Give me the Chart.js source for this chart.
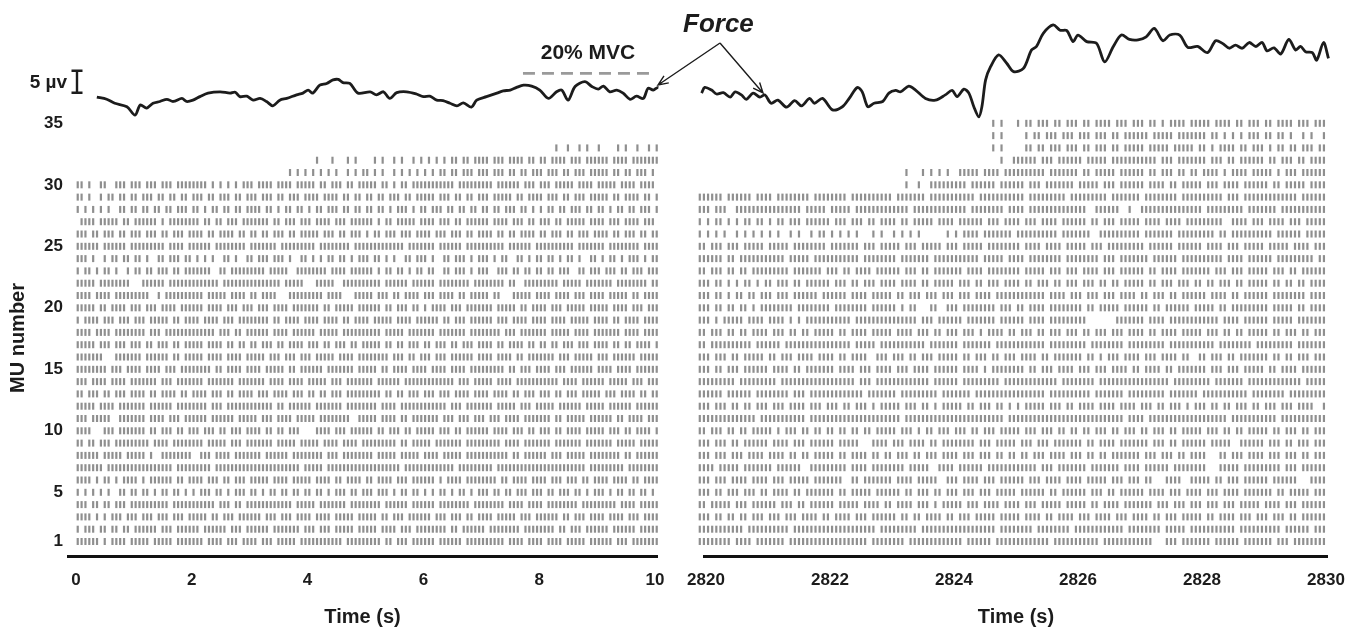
<!DOCTYPE html>
<html>
<head>
<meta charset="utf-8">
<script src="https://cdn.jsdelivr.net/npm/chart.js@4/dist/chart.umd.min.js"></script>
<style>
  html, body { margin: 0; padding: 0; background: #ffffff; }
  #wrap { position: relative; width: 1359px; height: 633px; overflow: hidden; }
  #wrap canvas { position: absolute; left: 0; top: 0; }
</style>
</head>
<body>
<div id="wrap">
  <canvas id="leftChart" width="1359" height="633"></canvas>
  <canvas id="rightChart" width="1359" height="633"></canvas>
</div>
<script>
// ---------------- DATA ----------------
const leftTimeTicks = [0, 2, 4, 6, 8, 10];
const rightTimeTicks = [2820, 2822, 2824, 2826, 2828, 2830];
const muTicks = [1, 5, 10, 15, 20, 25, 30, 35];

// Discharge patterns: one string per motor unit (index 0 = MU 1),
// one character per 1/15 s bin ('|' = discharge, '.' = none); spaces only group 1 s.
const binsPerSecond = 15;
const leftRasterStart = 0.03;
const rightRasterStart = 2819.9;

const leftRaster = [
"||||||.|.||||.| ||||.|||||.|||| |||.||||.|||.|| ||.|||.|||||.|| |||||||||.||||| ||||.||.|||.||| |||.||||||.|||| ||||||.||||.||| |.||||.|||||.|| ||||.|||.|||||| |",
"|.|||.||.||.||. ||||||.|||.|||| ||.||||||.|||.| |||||.|||||||.| ||.|||.|||||.|| |||.||||.|||.|| ||||||.||.||||| |.||||||||.|||| ||||.||.|||.||| |||.||||||.|||| |",
"||||.|.|.|||.|| |.|||.|||.|||.| ||||.||.|||.||| |||.|||.|||.||| |.||||.|||||.|| |||.||.|||.|||| ||.|||.|||.||.| |||.|||||.|||.| |||||.||.|||.|| ||.||||.|||.||| |",
"|||.||.||.|||.| |||||||||.||||| ||||||.|||.||.| |||||||||||.||| ||.|||||||.|||| ||||.||||||.||| |||.||||||||.|| ||||||.||||.||| |.||||||||.|||| |||||.||||.|||| |",
"|.|.|.|.|..||.| |.||.|.||.||.|. |.|||.||.|.|||. ||.|.||.||.||.| |.||.|.|||.||.| ||.|||.|.||.||. |.|.||.|.||.|.| ||.||.||.|||.|| |.||.|||.||.|.| ||.|.||.||.||.| .",
"||||.|.||.|.||| |.|.||||||.||.| |||.|||.||.|||. |||||.||||.|||| |.||||.||.||||. ||.||||.|||.||| |||.|.||||.|||| ||||.||.||||.|| ||.|||.|||.||.| |||.||||.||.||| |",
"|||||||.||||||| ||||||||||.|||| |||||.||||||||| |||||||||||||.| ||||.|||||||||| |||||||||.||||| ||||||||.|||||| |||.||||||||||| ||||||||||||.|| |||||||.||||||| |",
"||||||.|||||.|| |||.|..|||||||| ..|||.||||.|||| |||.||||||.|||| ||||.|||.|||||| ||.|||||.|||||. ||||.|||||.|||| |||||||.||.|||| ||.|||.|||||.|| ||||||.||.||||| |",
"||.||.|||.||||| ||||.||||.||||| |||.|||||.|||.| ||||||.|||||.|| |||.||||.||||.| ||||||||.||.||| ||.|||||||.|||| |||||.||||.|||| |||.|||||||.||| ||||.|||||.|||| |",
"||||...|||.|||| |||.||.|||.||.| ||.|||.||.|||.| |||.||.||.|||.. ..||||.|||.|||| ||.||.|||.||.|| |||.|||.||.|||| ||.||||.|||.||. |||.||.||||.||| ||.|||.||.||||. |",
"|||.|||||..|||| |||.||||.|||.|| ||||.||||||.||| ||.|||.||||.||| ||.||||||||..|| |||.||||.||.||| ||||.|||.|||.|| |.|||.||||.|||| |||.||.|||||.|| ||||.||.||||.|| |",
"|||||.||||.|||| |||.||||||.|||| ||||.|||.|||||| ||||||.||.||||| |.|||||||.||||| |||.||||.|||||| ||||||.|||.|||| |||.|||||.|||.| ||||.||||||.||| ||.||||||.||||| |",
"||.|||.||.|||.| |||.||.||||.||. ||||.|||.||.||| |.|||.||||.|||. ||.||.|||.||||| ||||.||.||.|||. |||.|||.||||.|| ||.||||.||.|||. |||.||.|||.|||| |.|||.||||.||.| |",
"|||.||||.||||.| ||||||.|||.|||| |||.|||||||.||| ||||.||||.||||. |||||.|||.||||| ||.||||||.||||| ||||||||.|||.|| |||.||||.|||||| |||||.||||.|||| ||.|||||.|||.|| |",
"||||||||.|||.|| ||.||||.|||.||| |||||.||.||||.| |||.|||||.||.|| ||||.|||||||.|| |||.||.||||.||| |.||||.||||.||| ||||||.||.|||.| |||.|||.||||||. ||||.||||.||||| |",
"|||||||...||||| ||.||||||.||.|| |||.||||.||||.| ||||.|||.|||.|| |.|||||.||||.|| ||||||.|||.||.| ||.|||.||||||.| |||.||||.||.||| ||||.|||.|||||. |||.||||||.|||| |",
"|||||.|||.|||.| ||.||.|||.||.|| |||.||||.||.||. ||.|||.||.||||. |||.||.|||.||.| ||||.||.||.|||. ||.|||.||.|||.| |||.||.||||.||. ||.||.|||.|||.| |||.||.||.||||. |",
"||||.||||.||||| |||.|||.||||||| ||||||.|||.||.| |||||.||||.|||| ||.|||||.|||||| ||||.|||||.|||| |||.|||||||.||| |||||.|||.||||| ||.|||||.||||.| ||||||.||||.||| |",
"|.||||.|||.|||. |||.|||||.||.|| ||.||||.|||.||| |||||.||.||||.| |||.||||.||.||| |.|||||.||||.|| ||||.||.|||.||| |||.|||.||||.|| ||.||||.|||||.| |||.||.||||.||| |",
"|||||.||.||||.| ||.|||.||||.||| |||.||||.|||.|| |.|||.||||.|||| |||.||.|||||.|| ||||.||.|||.||. |.||||.|||.|||| |||.|||||.||.|| ||.|||.|||||.|| |||.||||.|||.|| |",
"||||.||||.||||| ||||..|.||||||| |||.|||||.||||. ||.||||...||||| ||||.||||...||| ||.|||.||.||||. |||.||||.||.||| ||.||...|||||.| |||.||||.|||.|| ||.|||||.||.||| |",
"|||||.||||||||. ..||||||.|||||| |||||||.||||||| ||||||||.|||||. ..|||||..|||||| ||||.||||||.||| |||.||||||||.|| ||||||.||..|||| |||||.|||||.||| ||||.||||||||.| |",
"|.||.|.||.|..|. ||.||.|||.||.|| |||||..||.||||| ||||.|||||..||| |||||.||||.|||| ||.|.||.||.|.|| .||..||.|||.|.| ||..|||.||.||.| |.||.|||..||.|| |.|||.||.|||.|| |",
"|||.|..|.||.||. ||.|..||.|||.|| .|.|.|..||.|..| |.|||.|||.|..|| .|.|.||.||.|.|| |.||.|.|..||.|| |.|..||.|||.|.| ||.|.||..||.|.| |.||.|.||.|..|| .|.||.|.|||.|.| |",
"||||||.||||||.| ||||||||.||||.| |||||.||||||||. |||||||.||||||| ||.||||||||.||| ||||||||||.|||| |||.||||||.|||| ||||||.||||||.| |||||||||.||||| ||.||||||||.||| |",
"|||.||.|||.||.| ||.|||.||.|||.| |||.||.||||.||. ||.||.|||.||.|| |||.|||.||.|||. |.||.|||.|||.|| ||.|||.|||.||.| |||.||.||.||||. ||.|||.||.|||.| |||.||.|||.||.| |",
".||||.|||||.||. ||||||.|.|||||| ||.||.||.|||.|| |||||.||.|||.|| |.||||.|||.|||| ||.|.||.|||||.| |||.|||.||.|||| ||.||||.|||.||. |||.||.|||||.|| ||.|||.||||.||| .",
"|.|.|.|.|..||.| |.||.||.||.|||. ||.|.||.||.||.| |||.||.|.||.||. |.||.|||.||.||. ||.||.|.|||.|.| |.|||.||.||.||. ||.||.|||.||.|. |.||.||.|||.||. ||.|.||.||.|||. |",
"||.|..|.||.||.| |.|||.||.||.||. |||.||.|||.||.| ||.|||.||.|||.| |||.||||.||.||. ||.||.|||.||.|| |||.|||.||.||.| ||.|||||.||.||| |.|||.||.|||.|| |||.||.||||.||. |",
"||.|..||..|||.| ||.|||.|||.|||| ||||.|.|.|.|.|| |.||||.||||.||| ||.||.|||.||.|| |||.||.|.||.||| ||||||||.|||||| |||.||||||.|||. |||.|||||.||||. |||||.||||.|||| .",
"............... ............... ............... ..........|.|.| .|.|.|.|..|.|.| |.|.|..|.|.|.|. |.|.||.||.|||.| ||.|||.||.||.|| |.|||.||.|||.|| |||.||.||.|||.| .",
"............... ............... ............... ............... ..|...|...|.|.. ..|.|..|.|..|.| .|.|.|.||.||.|| ||.|||.||||.||. ||.||||.|||.||| |||.||||.|||||| |",
"............... ............... ............... ............... ............... ............... ............... ............... ....|..|..|.|.. |....|.|..|..|. |"
];

const rightRaster = [
"||||||||.||||.| ||||||.|||||||| |||||||||||.||| |||||.||||||||| ||||.||||||.||| ||||||||||.|||| |||||||.||||||| |||||...|||.||| ||||.||||||.||| ||||.|||.|||||| ||",
"|||||||||||.||| |||||||.||||||| |||||||||||||.| ||||||||.|||||| ||||||||||||.|| ||||||.|||||||| .||||||||||||.| |||||||.|||||.| ||||||||||.|||| ||||||.||||||.| ||",
"|||.||.||.||.|| |.|||.|||.||||. ||.||||.|||.||| |||.||.||.||||. ||.|||.|||||.|| |||.||||.||.||| |.|||.||||.|||. ||||.||.|||.||| ||.||.||||.|||. |||.|||.||.|||| ||",
"||.|||||.|||.|| ||||.|||.||.||| |||.|||||.||||. ||.||||.|||.|.| ||||.|||.||||.| |||.|||.|||||.| ||||.||.||||.|| |||||.|||.|||.| ||.|||.|||.|||| |.||||.|||.|||| ||",
"|||.||.|||.|||. ||.||||.||.|||| |||.||.|||||.|| ||||.||.|||.||. |||.|||.|||.||| ||.||||||.||.|| ||||.|||.||.||| |||.||||.|||.|| ||.|||.||||.||| ||||.||.|||||.| ||",
"|||.|||.||||.|| ||.|||.|||||.|| |||||..||.||||| ||.||||.|||||.. |||.||||.|||.|| ||||.|||.||||.| |||.|||||.|||.| ||.||...||||..| ||||.||.|||.||| |||.||||||...|| ||",
"||||.|||||.|||| |||.||||||..||| ||||||.||||.||| |||||.|||||..|| ||.||||||.||||| |||||||.|||.||| ||||.|||||||.|| ||.||||||.||||| |||...|||||.||| ||||||.|||.|||| ||",
"|||.|||.|||.||| |.||||.||.||.|| |||.||.||||.||. ||.|||.||.|||.| |||.|||.|||.||. ||.||.|||.||||. |||.||.||.||||| ||.|||.|||.||.| |||...||.|||.|| ||.|||.|||.||.| ||",
"|||.|||.||.|||| ||.||||.|||.||| |||.|||||...||| |.|||.||||.||.| |||||||.|||.||| ||.|||.|||.|||| |||.||.||||.||| ||||.|||.||.||| |||.|||||..|||| ||.|||.||.|||.| ||",
"||.|||.||.||.|| |||.|.|||.||.|| .||.||.||.||.|| |||.|||.|.||.|| |.|||.||.|||.|| |||.|||.|||.||. ||.||.|||.||.|| |.||.|||.||.||| ||.|||.||.||.|| |||.||.|||.||.| ||",
"||||||||||||||. |||||||||||.||| ||||||||||||||| ||||.|||||||||| ||||||||||||||. ||||||||||||||| |||||||||||||.| |||.||||||||||| ||||||||.|||||| |||||.||||||||| ||",
"|||.|||.||.||.| ||.|||.||||.||| .|||.||.|||.|.| ||||.|||.||.|.| ||||.||.|||.||. |.|.|||||.|||.| |.||||.||||.||| |.|||.||.|||.|. |||.||.||.|||.| |.|||.|||.||||. .|",
"||||||.||||||.| |||||||.|||.||| ||||||||||.|||| |||.|||||||||.| ||||||.|||||||| |||||||||.||||| |||||.|||||||.| ||||||||.|||||| |.|||||||||||.| |||||||.||||||| ||",
"|||||||||.||||| ||||.|||||||||| ||||||||.|||.|| |||||||||||.||| |||.|||||||||.| ||||||||||||.|| ||||||.|||||||| |||||||||.||||| ||||.|||||||.|| |||||||||||.||| ||",
"|||.||.|||.|||| ||.||||.||.|||| |||.||||.|||.|| ||.|||.||||.||| |||.||||.|.|||| ||||.||.|||.||| |.|||.|||.||||. ||.||||.||.|||| |||.|||.|||.||| ||.||.||||.|||| ||",
"|||.|||.||.|||| |.||.|||.||||.| |||.||.||||..|| |.|||.||.|||.|| |||.||.|||.||.| ||.||||.||.|||| |||.||.|.|||.|| ||.|||.||||.||. .||.|||.||.|||| |||.||.||.|||.| ||",
"||.||||||||||.| |||||.||||||||| |||||||.|||||.| ||||||||||.|||| |||.|||||||.||| |||||||||.||||| ||||.||||||||.| ||||||||.|||||| |||||.||||||||. |||||||||.||||| ||",
"||.|||.||.||.|| ||.|||.||.||.|| |||.||.||||.||| ||.||||.|||.||. |||.|||.|.||||. ||.|||.||.|||.| ||.||.|||.|||.| |||.||.||||.||| ||.|||.||.||.|| |||.||.|||.||.| ||",
"|||.|.|||||.||| |.||||.|.|.|||| |||||||.||||||| ||||||||.|||.|| ||||.|||||||.|| ||||.||||.||||| ||||.......|||| |||.||||.|||||| ||||||.||||.||| |||.|||||.||||| ||",
"|||.||.||.||.|. ||||||||.|||||| ||.||||||||.||| |||.|.||...||.. |||.||||||||.|| |.||.||||.||||| |||.||.|||||.|| ||||.||.||||||. |||||.||.|||||| |||.|||||.||.|| ||",
"|||.||.|.||.||. |||.|||.||||||. ||||||.||||.||| ||.||.|||.|||.| ||.|||.||||.||| |||||||||.||||. |||.|||.|||.||| |.||.|||.||.||| |||.||||.||.||| |||.||||||||.|| ||",
"|||.||.|.|.||.| .||.|||.||.|||| ||.|||.||.|||.| |||.||||.||.||| ||.|||.||.|||.| |||.||.|||.||.| ||.|||.||.||.|| |||.||.|||.|||. ||.||.|||.||.|| |||.||.||.||.|| ||",
"||.|||.||.||.|| |||||||.||||||| .|||.||.||||.|| ||||.|||.||.||| ||||.||||.||||| |||.|||||.|||.| ||.||||.|||.||| |||.||.||||.||| ||||.|||.|||.|| |||.|||.||.|||| ||",
"||||||.||.||||| ||||||.|||||.|| |||||||||.||||| |||.|||||||.||| ||||||||.|||||. ||||.||||||||.| |||||||.|||.||| ||||.||||||.||| |||||||.||||.|| ||||.|||||||||. ||",
"||.|||.|||.|||| |.|||||.||||||| |.|||||||.|||.| ||||.|||.|||||. |||.|||||.||||| |||.||||.||||.| ||||.|||.|||||| |||.||||||.|||| ||.||||.|||.||| ||.|||||.||||.| ||",
"|.|.|.|..|.|.|. |.|.|..|.|..|.| |.|.|.|.|...|.| ..|.|.|.|...... |.|.||||.|||||| |.||||||||||.|| |||||..|||||||| ||.|||||||.|||| |||||.||.|||||| ||||.||||||.||| ||",
"|.|.||.|.|.||.| |.|.||.|||.|||| ||.|||.|||.||.| |||.||.|||||.|| ||.||||||.|||.| |||.|||.||||.|| ||||.||.|||.||| ||.||||.||||.|| |||||||..||||.| ||.||||.|||.||| ||",
"|||.|||..|||||| ||||||||||.|||| |.|||||.||||||| ||||||.|||||||| |||||.||||||||. ||||.|||||||||| ||||..||||||..| ..||||||||||||| ||.|||||||||.|| |||||.||||||||| ||",
"||||||.||||||.| |||.||||||||.|| ||||||.|||||||| ||.|||||||.|||| |||||||.||||||| ||||.|||||||||. |||||||||.||||| ||.||||||||.||| |||||||.|||.||| ||||||||||.|||| ||",
"............... ............... ............... .....|..|..|||| |||||.||||||.|| ||||.|||.|||||| |.|||||.|||.||| |||.||||.||.||| ||.|||.||||.||| |||.||.|||||.|| ||",
"............... ............... ............... .....|...|.|.|. |..|||||.||||.| |||||||||.||||| ||.||.|||||.||| |||.||.|||.||.| |.||||.|.||||.| ||||.|.|||.|||| ||",
"............... ............... ............... ............... .............|. .||||||.|||.||| |||.|||||.||||| ||||||.|||.|||| |||.|||.||.|||| ||.||.|||.||.|| ||",
"............... ............... ............... ............... ...........|.|. ....||.||.|||.| ||.||.|||.||.|| |||.|||||.||||| .||.|.||||.||.| ||.|.||.||.|||. ||",
"............... ............... ............... ............... ...........|.|. ....|.||.|||.|| |.|||.|||.||.|| ||||.|||||.|||| |||.||.|.|.|.|| |.||.||.|..|.|. .|",
"............... ............... ............... ............... ...........|.|. ..|.||.|||.||.| ||.||.||||.|||. |||.||.|.||||.| ||||.||||.||.|| |.||.||||.|||.| ||",
"............... ............... ............... ............... ...........||.| ||||||||.|||||| ||||||.|||||||| ||||.|||||||||| ||.|||||||||.|| |.|||||||||.||| ||"
];

// Force traces (time in s, force in trace units; the scale bar spans 5 units)
const leftForceTime = [0.36,0.53,0.67,0.88,1.02,1.11,1.22,1.33,1.45,1.57,1.68,1.83,1.91,2.02,2.14,2.28,2.49,2.66,2.75,2.83,2.95,3.06,3.18,3.29,3.40,3.52,3.64,3.81,3.92,4.01,4.09,4.21,4.33,4.44,4.53,4.61,4.73,4.87,5.08,5.19,5.31,5.42,5.54,5.71,5.88,6.00,6.11,6.23,6.34,6.46,6.58,6.69,6.83,6.92,7.09,7.27,7.38,7.50,7.61,7.73,7.87,8.01,8.16,8.30,8.39,8.50,8.62,8.79,8.91,9.02,9.11,9.22,9.34,9.45,9.57,9.68,9.80,9.88,9.97,10.06,10.26];
const leftForceValue = [104.3,103.8,102.9,102.1,100.2,102.5,101.8,102.9,103.3,103.8,103.3,104.0,103.3,103.6,104.4,105.2,105.5,105.2,105.4,104.4,104.5,103.6,104.0,103.3,102.3,103.6,104.0,104.8,105.2,105.9,105.2,107.0,107.4,108.2,108.3,107.6,107.4,105.2,105.5,104.8,105.5,104.0,105.3,105.5,105.0,104.4,104.5,103.6,103.5,102.9,102.3,103.0,102.0,103.6,104.4,105.2,105.7,105.9,106.5,107.0,106.8,105.9,104.0,105.5,105.9,103.6,106.7,107.8,106.7,106.1,106.8,105.5,105.9,105.2,103.8,104.5,104.0,106.3,105.9,106.5,105.5];
const rightForceTime = [2819.93,2819.98,2820.09,2820.17,2820.28,2820.39,2820.47,2820.57,2820.65,2820.76,2820.87,2820.95,2821.05,2821.16,2821.30,2821.43,2821.54,2821.67,2821.75,2821.88,2822.04,2822.20,2822.31,2822.44,2822.52,2822.61,2822.71,2822.85,2822.95,2823.06,2823.14,2823.27,2823.38,2823.54,2823.70,2823.86,2823.97,2824.05,2824.16,2824.24,2824.32,2824.40,2824.45,2824.51,2824.59,2824.72,2824.85,2824.96,2825.12,2825.25,2825.33,2825.44,2825.60,2825.71,2825.82,2825.92,2826.00,2826.14,2826.30,2826.43,2826.57,2826.70,2826.83,2826.97,2827.10,2827.23,2827.37,2827.48,2827.64,2827.77,2827.93,2828.09,2828.22,2828.33,2828.44,2828.54,2828.65,2828.76,2828.87,2828.97,2829.05,2829.16,2829.27,2829.40,2829.51,2829.59,2829.67,2829.78,2829.85,2829.96,2830.04];
const rightForceValue = [105.2,106.5,105.9,105.0,105.3,104.3,105.5,104.8,103.8,105.2,104.3,104.8,102.9,103.6,102.0,103.5,102.3,104.0,102.9,104.0,101.4,102.1,104.0,106.5,105.5,102.1,102.9,103.3,105.2,105.8,105.5,106.8,105.9,104.0,103.6,104.8,105.8,104.4,106.1,105.2,102.1,99.8,102.1,108.2,111.2,113.9,112.0,110.1,110.8,115.0,115.8,118.8,120.7,119.5,119.4,116.9,118.4,116.9,116.5,112.3,115.8,118.4,117.4,117.3,118.0,119.9,117.1,118.4,118.4,115.6,115.8,114.4,117.1,116.5,115.4,116.1,115.4,116.7,115.8,116.7,114.8,115.5,114.1,117.4,115.0,115.8,114.6,114.4,112.7,116.7,113.1];

// 20% MVC reference level and scale bar (trace units)
const mvcLevel = 109.7;
const mvcSpan = [7.72, 10.0];
const scaleBarBase = 105.3;
const scaleBarSize = 5;

// ---------------- RENDERING ----------------
const FONT = '"Liberation Sans", Arial, Helvetica, sans-serif';
const INK = '#1c1c1c';
const SPIKE = '#8f8f8f';
Chart.defaults.font.family = FONT;
Chart.defaults.color = INK;

function rasterPoints(rows, start) {
  const pts = [];
  rows.forEach((row, k) => {
    const s = row.replace(/ /g, '');
    for (let i = 0; i < s.length; i++) {
      if (s[i] === '|') pts.push({ x: start + i / binsPerSecond, y: k + 1 });
    }
  });
  return pts;
}
function tracePoints(ts, vs) { return ts.map((t, i) => ({ x: t, y: vs[i] })); }

function spikeDataset(rows, start) {
  return {
    type: 'scatter', data: rasterPoints(rows, start), yAxisID: 'y',
    pointStyle: 'line', pointRotation: 90, pointRadius: 3.5, pointHoverRadius: 3.5,
    pointBorderWidth: 2.2, pointBorderColor: SPIKE, pointBackgroundColor: SPIKE,
    showLine: false, clip: false, order: 2
  };
}
function forceDataset(ts, vs) {
  return {
    type: 'line', data: tracePoints(ts, vs), yAxisID: 'yF',
    borderColor: INK, borderWidth: 2.8, pointRadius: 0, tension: 0.3,
    fill: false, clip: false, order: 1
  };
}

const Y_MIN = -0.179, Y_MAX = 35.27, YF_MAX = 99.09;

function baseScales(xMin, xMax, xTicks, showY) {
  return {
    x: {
      type: 'linear', position: 'bottom', min: xMin, max: xMax,
      afterBuildTicks: s => { s.ticks = xTicks.map(v => ({ value: v })); },
      afterFit: s => { s.height = 77; },
      grid: { display: false, drawTicks: false },
      border: { display: true, color: '#111111', width: 3 },
      ticks: { font: { size: 17, weight: 'bold' }, color: INK, padding: 14, maxRotation: 0, autoSkip: false,
               callback: v => String(v) },
      title: { display: true, text: 'Time (s)', font: { size: 20, weight: 'bold' }, color: INK,
               padding: { top: 0, bottom: 4 } }
    },
    y: {
      type: 'linear', position: 'left', min: Y_MIN, max: Y_MAX, display: showY,
      afterBuildTicks: s => { s.ticks = muTicks.map(v => ({ value: v })); },
      afterFit: s => { s.width = showY ? 68 : 0; },
      grid: { display: false, drawTicks: false },
      border: { display: false },
      ticks: { font: { size: 17, weight: 'bold' }, color: INK, padding: 5, autoSkip: false,
               callback: v => String(v) },
      title: { display: true, text: 'MU number', font: { size: 20, weight: 'bold' }, color: INK,
               padding: { top: 6, bottom: 0 } }
    },
    yF: { type: 'linear', display: false, min: 0, max: YF_MAX }
  };
}

const leftAnnotations = {
  id: 'leftAnnotations',
  afterDatasetsDraw(chart) {
    const ctx = chart.ctx, yF = chart.scales.yF;
    const yTop = yF.getPixelForValue(scaleBarBase + scaleBarSize);
    const yBot = yF.getPixelForValue(scaleBarBase);
    ctx.save();
    ctx.strokeStyle = INK; ctx.lineWidth = 2.4;
    ctx.beginPath();
    ctx.moveTo(77, yTop); ctx.lineTo(77, yBot);
    ctx.moveTo(71.5, yTop); ctx.lineTo(82.5, yTop);
    ctx.moveTo(71.5, yBot); ctx.lineTo(82.5, yBot);
    ctx.stroke();
    ctx.fillStyle = INK;
    ctx.font = 'bold 19px ' + FONT;
    ctx.textAlign = 'right'; ctx.textBaseline = 'middle';
    ctx.fillText('5 µv', 67, (yTop + yBot) / 2 + 1);
    ctx.font = 'bold 21px ' + FONT;
    ctx.textAlign = 'center'; ctx.textBaseline = 'alphabetic';
    ctx.fillText('20% MVC', 588, 59);
    ctx.restore();
  }
};

function arrow(ctx, x0, y0, x1, y1) {
  const a = Math.atan2(y1 - y0, x1 - x0), L = 11, w = 0.4;
  ctx.beginPath();
  ctx.moveTo(x0, y0); ctx.lineTo(x1, y1);
  ctx.moveTo(x1 - L * Math.cos(a - w), y1 - L * Math.sin(a - w));
  ctx.lineTo(x1, y1);
  ctx.lineTo(x1 - L * Math.cos(a + w), y1 - L * Math.sin(a + w));
  ctx.stroke();
}

const rightAnnotations = {
  id: 'rightAnnotations',
  afterDatasetsDraw(chart) {
    const ctx = chart.ctx;
    ctx.save();
    ctx.fillStyle = INK;
    ctx.font = 'italic bold 26px ' + FONT;
    ctx.textAlign = 'left'; ctx.textBaseline = 'alphabetic';
    ctx.fillText('Force', 683, 32);
    ctx.strokeStyle = INK; ctx.lineWidth = 1.4;
    arrow(ctx, 720, 43, 658, 85);
    arrow(ctx, 720, 43, 763, 93);
    ctx.restore();
  }
};

const common = {
  responsive: false, animation: false, devicePixelRatio: 1, events: [],
  plugins: { legend: { display: false }, tooltip: { enabled: false } }
};

new Chart(document.getElementById('leftChart'), {
  type: 'scatter',
  data: {
    datasets: [
      forceDataset(leftForceTime, leftForceValue),
      {
        type: 'line', data: [{ x: mvcSpan[0], y: mvcLevel }, { x: mvcSpan[1], y: mvcLevel }], yAxisID: 'yF',
        borderColor: '#9a9a9a', borderWidth: 2.7, borderDash: [12, 7], pointRadius: 0, clip: false, order: 1
      },
      spikeDataset(leftRaster, leftRasterStart)
    ]
  },
  options: Object.assign({}, common, {
    layout: { padding: { top: 120, right: 1359 - 657, left: 0, bottom: 0 } },
    scales: baseScales(-0.138, 10.035, leftTimeTicks, true)
  }),
  plugins: [leftAnnotations]
});

new Chart(document.getElementById('rightChart'), {
  type: 'scatter',
  data: {
    datasets: [
      forceDataset(rightForceTime, rightForceValue),
      spikeDataset(rightRaster, rightRasterStart)
    ]
  },
  options: Object.assign({}, common, {
    layout: { padding: { top: 120, right: 28, left: 704, bottom: 0 } },
    scales: baseScales(2819.968, 2830.032, rightTimeTicks, false)
  }),
  plugins: [rightAnnotations]
});
</script>
</body>
</html>
